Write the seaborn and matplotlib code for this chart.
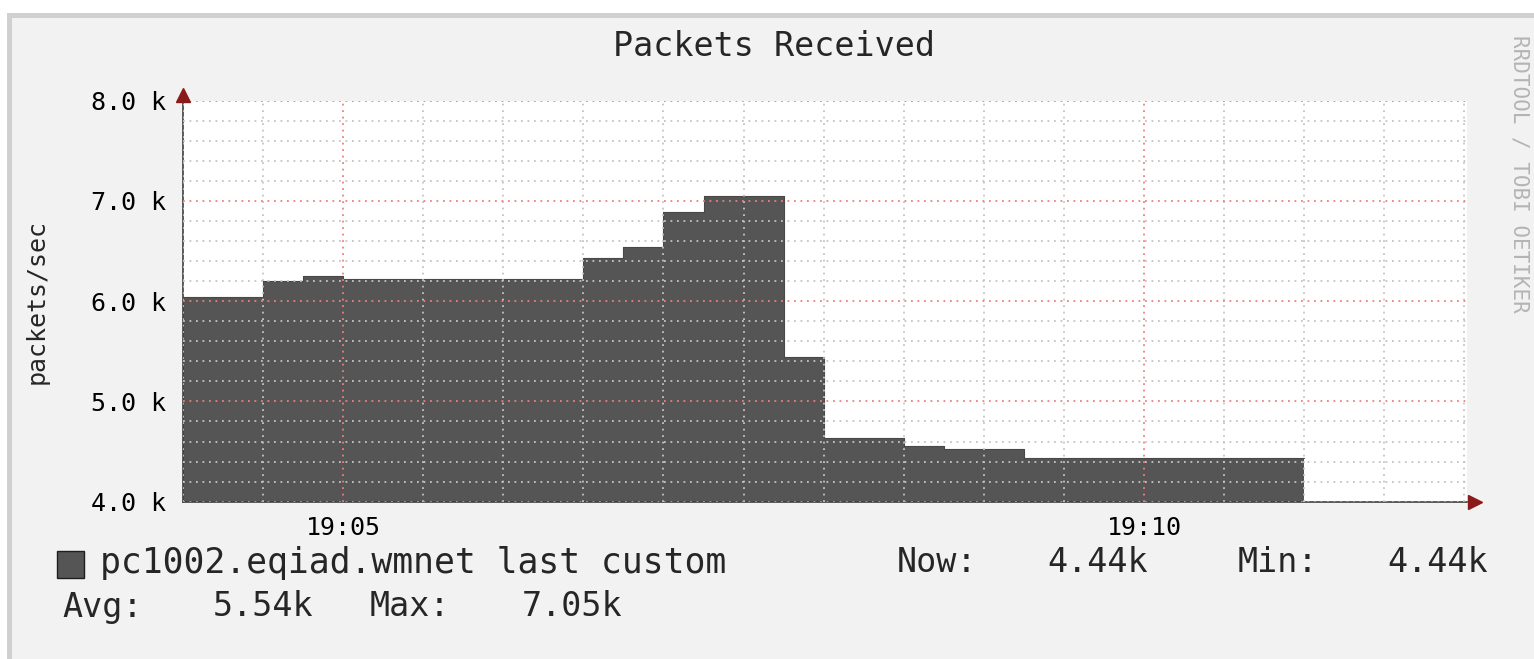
"""
Packets Received - RRDtool style area graph redrawn with seaborn/matplotlib.
"""

import pandas as pd
import matplotlib.pyplot as plt
import matplotlib.dates as mdates
from matplotlib.patches import Rectangle
from matplotlib.ticker import FuncFormatter, MultipleLocator
import seaborn as sns

TITLE = "Packets Received"
Y_LABEL = "packets/sec"
SOURCE = "pc1002.eqiad.wmnet last custom"
WATERMARK = "RRDTOOL / TOBI OETIKER"
DAY = "2013-01-01"

# one sample per 15 s RRD step, value holds until the next sample
sample_times = [
    "19:04:00", "19:04:15", "19:04:30", "19:04:45",
    "19:05:00", "19:05:15", "19:05:30", "19:05:45",
    "19:06:00", "19:06:15", "19:06:30", "19:06:45",
    "19:07:00", "19:07:15", "19:07:30", "19:07:45",
    "19:08:00", "19:08:15", "19:08:30", "19:08:45",
    "19:09:00", "19:09:15", "19:09:30", "19:09:45",
    "19:10:00", "19:10:15", "19:10:30", "19:10:45",
]
packets_per_sec = [
    6040, 6040, 6200, 6250,
    6220, 6220, 6220, 6220,
    6220, 6220, 6430, 6540,
    6890, 7050, 7050, 5440,
    4640, 4640, 4560, 4530,
    4530, 4440, 4440, 4440,
    4440, 4440, 4440, 4440,
]
data_end = "19:11:00"
x_range = ("19:04:00", "19:12:01")
y_range = (4000, 8000)

W, H = 1534, 659


def fx(px):
    return px / W


def fy(py):
    return 1 - py / H


def main():
    sns.set_style("white")
    plt.rcParams['font.family'] = ['DejaVu Sans Mono', 'DejaVu Sans']

    df = pd.DataFrame({
        'time': pd.to_datetime([f"{DAY} {t}" for t in sample_times]),
        'pps': packets_per_sec,
    })
    # repeat last value at the end of its step so the steps close properly
    end_row = pd.DataFrame({'time': [pd.to_datetime(f"{DAY} {data_end}")],
                            'pps': [packets_per_sec[-1]]})
    df_steps = pd.concat([df, end_row], ignore_index=True)

    fig = plt.figure(figsize=(W / 100, H / 100), dpi=100)
    fig.patch.set_facecolor('white')
    # grey frame of the screenshot
    fig.add_artist(Rectangle((fx(8.5), -0.05), 1.1, fy(14.5) + 0.05,
                             transform=fig.transFigure, facecolor='#f2f2f2',
                             edgecolor='#d0d0d0', lw=3.6, zorder=-10))

    ax = fig.add_axes([fx(183), fy(501.7), fx(1467) - fx(183), fy(100.7) - fy(501.7)])
    ax.set_facecolor('white')

    ax.fill_between(df_steps['time'], df_steps['pps'], y_range[0], step='post',
                    color='#555555', lw=0, zorder=1)
    sns.lineplot(data=df_steps, x='time', y='pps', drawstyle='steps-post',
                 color='#484848', lw=0.8, ax=ax, zorder=1.5)

    ax.set_xlim(pd.to_datetime(f"{DAY} {x_range[0]}"), pd.to_datetime(f"{DAY} {x_range[1]}"))
    ax.set_ylim(*y_range)
    ax.set_xlabel("")
    ax.set_ylabel("")

    # grid: red major, grey minor, drawn over the area
    ax.set_axisbelow(False)
    ax.xaxis.set_major_locator(mdates.MinuteLocator(byminute=[5, 10]))
    ax.xaxis.set_minor_locator(mdates.SecondLocator(bysecond=[0, 30]))
    ax.xaxis.set_major_formatter(mdates.DateFormatter("%H:%M"))
    ax.yaxis.set_major_locator(MultipleLocator(1000))
    ax.yaxis.set_minor_locator(MultipleLocator(200))
    ax.yaxis.set_major_formatter(FuncFormatter(lambda v, p: f"{v / 1000:.1f} k"))
    ax.grid(which='minor', color='#c4c4c4', linestyle=(0, (1, 2.6)), lw=1.3)
    ax.grid(which='major', color='#ec8080', linestyle=(0, (1, 2.6)), lw=1.3)

    ax.tick_params(which='both', direction='out', length=4, width=1,
                   color='#808080', labelsize=18, labelcolor='black')
    ax.tick_params(axis='y', pad=8)
    ax.tick_params(axis='x', pad=6)

    for side in ['top', 'right']:
        ax.spines[side].set_visible(False)
    for side in ['left', 'bottom']:
        ax.spines[side].set_color('#404040')
        ax.spines[side].set_linewidth(1.2)

    # axis arrows
    ax.plot([0], [1 + 6 / 401], marker='^', markersize=10, color='#8b1a1a',
            transform=ax.transAxes, clip_on=False, zorder=5)
    ax.plot([1 + 8 / 1284], [0], marker='>', markersize=10, color='#8b1a1a',
            transform=ax.transAxes, clip_on=False, zorder=5)

    fig.text(fx(774), fy(47), TITLE, ha='center', va='center', fontsize=24)
    fig.text(fx(37), fy(302), Y_LABEL, ha='center', va='center', rotation=90, fontsize=18)
    fig.text(fx(1520), fy(174), WATERMARK, ha='center', va='center', rotation=270,
             fontsize=15, color='#b4b4b4')

    # legend block
    fig.add_artist(Rectangle((fx(57), fy(578)), 27 / W, 27 / H, transform=fig.transFigure,
                             facecolor='#555555', edgecolor='#1e1e1e', lw=1))
    now_v = packets_per_sec[-1]
    stats_1 = [("Now:", 897, 'left'), (f"{now_v / 1000:.2f}k", 1148, 'right'),
               ("Min:", 1238, 'left'), (f"{min(packets_per_sec) / 1000:.2f}k", 1488, 'right')]
    avg_v = sum(packets_per_sec) / len(packets_per_sec)
    stats_2 = [("Avg:", 62, 'left'), (f"{avg_v / 1000:.2f}k", 313, 'right'),
               ("Max:", 370, 'left'), (f"{max(packets_per_sec) / 1000:.2f}k", 622, 'right')]
    fig.text(fx(100), fy(563), SOURCE, ha='left', va='center', fontsize=25)
    for txt, x, ha in stats_1:
        fig.text(fx(x), fy(563), txt, ha=ha, va='center', fontsize=24)
    for txt, x, ha in stats_2:
        fig.text(fx(x), fy(607), txt, ha=ha, va='center', fontsize=24)

    fig.savefig("out.png", dpi=100)
    plt.close(fig)


if __name__ == "__main__":
    main()
